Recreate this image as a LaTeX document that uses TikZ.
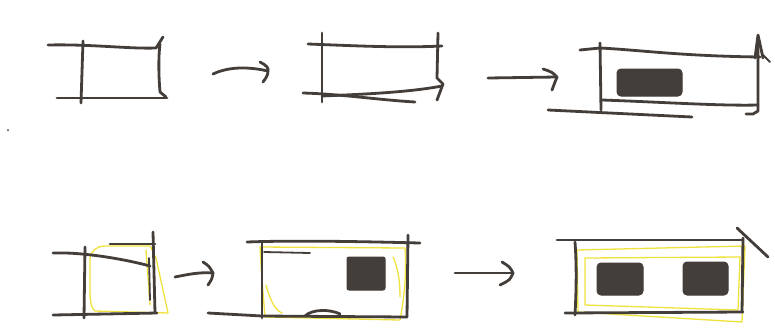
\documentclass[tikz,border=0pt]{standalone}
\usetikzlibrary{arrows.meta}
\definecolor{ink}{HTML}{443E3B}
\definecolor{hl}{HTML}{F0E23C}
\begin{document}
\begin{tikzpicture}[x=1pt,y=-1pt,
  pen/.style={draw=ink,line width=2.8pt,line cap=round,line join=round},
  penthin/.style={draw=ink,line width=1.8pt,line cap=round,line join=round},
  hilite/.style={draw=hl,line width=1.3pt,line join=round,line cap=round},
  blob/.style={fill=ink,draw=ink,line width=1pt,rounded corners=4pt}]
\useasboundingbox[fill=white] (0,0) rectangle (775,330);

% ---------- named points for the connectors ----------
\coordinate (a1s) at (213,74);  \coordinate (a1e) at (268,71);
\coordinate (a2s) at (488,78);  \coordinate (a2e) at (557,77);
\coordinate (a3s) at (175,277); \coordinate (a3e) at (213,273);
\coordinate (a4s) at (455,273); \coordinate (a4e) at (513,273);

% ================= ROW 1 =================
% box 1
\draw[pen] (48,45) .. controls (90,44) and (130,49) .. (156,48) -- (163,37);
\draw[pen] (83,41) -- (81,103);
\draw[pen] (160,44) .. controls (158,60) and (159,80) .. (160,92) -- (166,97);
\draw[pen] (57,98) -- (167,98);

% arrow 1
\draw[pen] (a1s) .. controls (230,66) and (250,67) .. (a1e);
\draw[pen] (260,62) .. controls (266,65) and (269,68) .. (a1e) .. controls (268,76) and (265,79) .. (263,82);

% box 2
\draw[pen] (308,44) .. controls (360,46) and (400,48) .. (442,46);
\draw[pen] (322,33) -- (322,102);
\draw[pen] (438,33) -- (437,78) -- (443,84) -- (437,100);
\draw[pen] (303,93) .. controls (340,94) and (380,100) .. (415,102);
\draw[pen] (322,96) .. controls (370,94) and (410,92) .. (442,86);

% arrow 2
\draw[pen] (a2s) -- (a2e);
\draw[pen] (543,69) .. controls (552,72) .. (a2e) .. controls (555,82) .. (552,90);

% box 3
\draw[pen] (580,50) -- (600,48) .. controls (640,50) and (680,56) .. (760,57);
\draw[pen] (600,43) -- (601,110);
\draw[pen] (755,58) -- (758,35) -- (763,58);
\draw[penthin] (762,54) -- (770,62);
\draw[pen] (758,40) -- (758,111) -- (753,114) -- (746,114);
\draw[pen] (602,100) .. controls (660,102) and (720,106) .. (758,105);
\draw[pen] (548,110) -- (692,117);
\draw[blob] (617,69) rectangle (682,96);

% ================= ROW 2 =================
% box 4
\draw[hilite] (90,258) .. controls (92,250) and (96,247) .. (104,246) -- (150,246) -- (156,258) -- (168,313) -- (95,311) .. controls (91,309) and (90,300) .. (90,290) -- cycle;
\draw[hilite] (146,250) -- (150,305);
\draw[pen] (110,244) -- (155,244);
\draw[pen] (53,253) .. controls (80,252) and (120,258) .. (150,266);
\draw[pen] (85,247) -- (84,318);
\draw[pen] (153,232) -- (155,313);
\draw[penthin] (149,258) -- (150,300);
\draw[pen] (53,315) -- (157,313);

% arrow 3
\draw[pen] (a3s) .. controls (190,274) and (200,272) .. (a3e);
\draw[pen] (203,262) .. controls (209,266) .. (a3e) .. controls (212,279) .. (208,285);

% box 5
\draw[hilite] (260,247) -- (405,248) .. controls (407,270) and (404,300) .. (400,320) -- (265,317) -- (262,280) -- cycle;
\draw[hilite] (393,257) .. controls (399,270) and (400,285) .. (400,297);
\draw[hilite] (266,285) .. controls (270,300) and (275,310) .. (282,313);
\draw[pen] (247,242) .. controls (300,240) and (380,242) .. (420,243);
\draw[penthin] (264,252) -- (310,253);
\draw[pen] (262,243) -- (262,318);
\draw[pen] (408,235) -- (407,317);
\draw[pen] (208,313) -- (262,316) -- (407,317);
\draw[pen] (305,316) .. controls (312,309) and (330,309) .. (340,314);
\draw[blob,rounded corners=2pt] (347,257) rectangle (385,290);

% arrow 4
\draw[pen] (a4s) -- (a4e);
\draw[pen] (502,262) .. controls (510,267) .. (a4e) .. controls (510,280) .. (500,285);

% box 6
\draw[hilite] (577,250) -- (745,246) -- (742,322) -- (578,312) -- cycle;
\draw[hilite] (585,258) -- (740,257) -- (738,310) -- (585,305) -- cycle;
\draw[pen] (557,240) -- (743,240);
\draw[pen] (737,228) -- (768,257);
\draw[pen] (575,242) .. controls (577,270) and (576,295) .. (575,315);
\draw[pen] (743,238) -- (742,312);
\draw[pen] (565,313) -- (743,312);
\draw[blob] (597,263) rectangle (643,295);
\draw[blob] (683,262) rectangle (728,295);

% speck
\fill[ink] (8,130) circle (1pt);
\end{tikzpicture}
\end{document}
